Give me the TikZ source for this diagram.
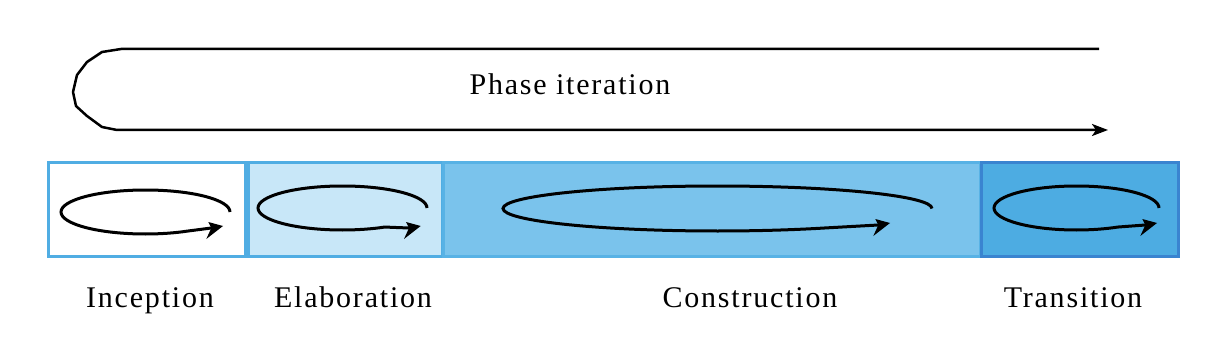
\documentclass[tikz,border=0pt]{standalone}
\usepackage{fontspec}
\setmainfont{Liberation Serif}[LetterSpace=6]
\usetikzlibrary{arrows.meta}
\definecolor{bordA}{RGB}{80,173,227}
\definecolor{fillB}{RGB}{200,231,248}
\definecolor{fillC}{RGB}{122,195,236}
\definecolor{bordC}{RGB}{88,178,229}
\definecolor{fillD}{RGB}{77,172,226}
\definecolor{bordD}{RGB}{58,132,208}
\tikzset{
  phasebox/.style={draw, line width=3pt, inner sep=0pt, minimum height=93.5pt},
  lbl/.style={font=\fontsize{30}{34}\selectfont, anchor=base, inner sep=0pt},
  cycleline/.style={line width=3pt},
  headfill/.style={fill=black},
  iterline/.style={line width=2.5pt, arrows={-Stealth[length=16pt,width=12pt,inset=4pt]}}
}
\begin{document}
\begin{tikzpicture}[x=1pt,y=-1pt]
\useasboundingbox (0,0) rectangle (1222,358);
% phase boxes
\node[phasebox, draw=bordA, fill=white, minimum width=197.2pt] (inc) at (146.9,209.75) {};
\node[phasebox, draw=bordA, fill=fillB, minimum width=194.5pt] (ela) at (345.25,209.75) {};
\node[phasebox, draw=bordC, fill=fillC, minimum width=536.5pt] (con) at (711.75,209.75) {};
\node[phasebox, draw=bordD, fill=fillD, minimum width=197pt] (tra) at (1080.2,209.75) {};
% loops with arrowheads
\draw[cycleline] (230,212) arc[start angle=0,end angle=300,x radius=84.5pt,y radius=22pt] -- (211.3,228);
\fill[headfill] (223,226) -- (208.3,222) -- (211.3,228) -- (206.3,239) -- cycle;
\draw[cycleline] (427,208) arc[start angle=0,end angle=300,x radius=84.5pt,y radius=22pt] -- (409,228);
\fill[headfill] (420.7,226) -- (406,222) -- (409,228) -- (404,239) -- cycle;
\draw[cycleline] (932,208.5) arc[start angle=0,end angle=300,x radius=214.5pt,y radius=22.5pt] -- (878.3,225);
\fill[headfill] (890,223) -- (875.3,219) -- (878.3,225) -- (873.3,236) -- cycle;
\draw[cycleline] (1159,208) arc[start angle=0,end angle=300,x radius=82.5pt,y radius=22pt] -- (1145.3,225);
\fill[headfill] (1157,223) -- (1142.3,219) -- (1145.3,225) -- (1140.3,236) -- cycle;
% labels
\node[lbl] (tinc) at (150,307) {Inception};
\node[lbl] (tela) at (353,307) {Elaboration};
\node[lbl] (tcon) at (750,307) {Construction};
\node[lbl] (ttra) at (1073,307) {Transition};
% phase iteration
\coordinate (itstart) at (1099,49);
\coordinate (itend) at (1108,130);
\draw[iterline, line join=round] (itstart) -- (121,49) -- (102,52) -- (87,62) -- (77,75) -- (73,92) -- (76,106) -- (87,116) -- (102,127) -- (117,130) -- (itend);
\node[lbl] (titer) at (570,95) {Phase iteration};
\end{tikzpicture}
\end{document}
